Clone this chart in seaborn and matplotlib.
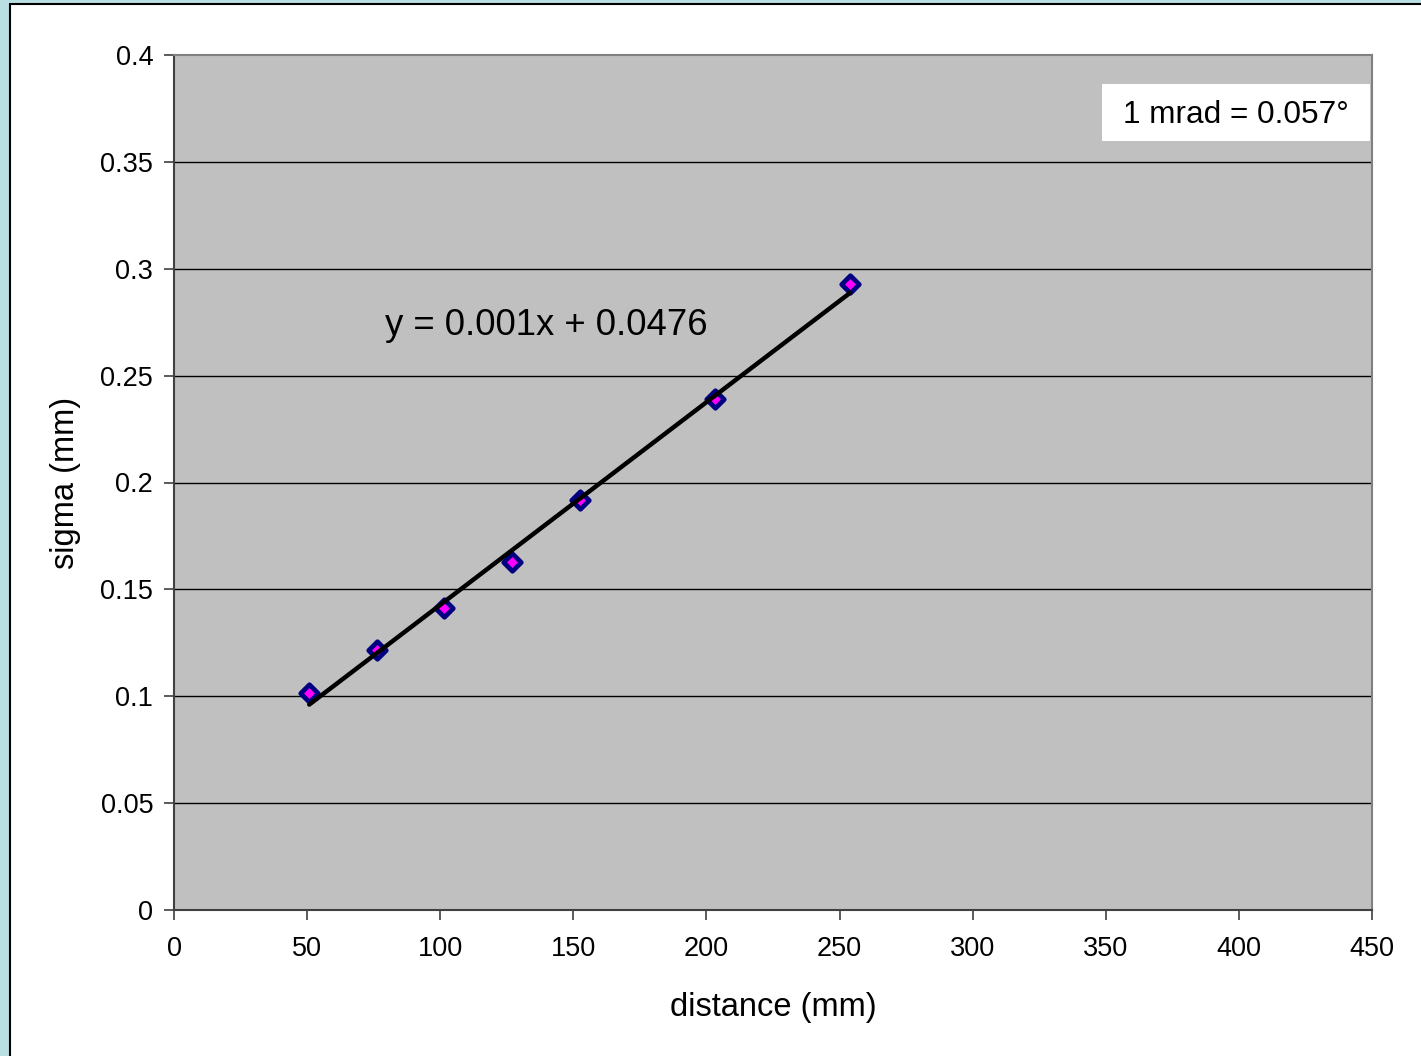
import numpy as np
import pandas as pd
import matplotlib
matplotlib.use("Agg")
import matplotlib.pyplot as plt
from matplotlib.patches import Rectangle
import seaborn as sns

# Data
distance_mm = [50.8, 76.2, 101.6, 127.0, 152.4, 203.2, 254.0]
sigma_mm = [0.1015, 0.1215, 0.1412, 0.1627, 0.1918, 0.2390, 0.2930]
x_ticks = [0, 50, 100, 150, 200, 250, 300, 350, 400, 450]
y_ticks = [0, 0.05, 0.1, 0.15, 0.2, 0.25, 0.3, 0.35, 0.4]
y_tick_labels = ["0", "0.05", "0.1", "0.15", "0.2", "0.25", "0.3", "0.35", "0.4"]
equation_text = "y = 0.001x + 0.0476"
note_text = "1 mrad = 0.057°"

sns.set_style("white")
plt.rcParams['font.family'] = ['Liberation Sans', 'DejaVu Sans']

df = pd.DataFrame({"distance": distance_mm, "sigma": sigma_mm})
slope, intercept = np.polyfit(df["distance"], df["sigma"], 1)
fit = pd.DataFrame({"distance": [min(distance_mm), max(distance_mm)]})
fit["sigma"] = slope * fit["distance"] + intercept

fig = plt.figure(figsize=(14.21, 10.56), dpi=100, facecolor="#BADFE3")
# white chart area with black border
fig.patches.append(Rectangle((10 / 1421, -0.05), 1.2, 1.05 - 4 / 1056,
                             transform=fig.transFigure, facecolor="white",
                             edgecolor="black", linewidth=1.5, zorder=-10))

ax = fig.add_axes([174 / 1421, 1 - 910 / 1056, 1198 / 1421, 855 / 1056], zorder=5)
ax.set_facecolor("#C0C0C0")

for yv in y_ticks[1:-1]:
    ax.axhline(yv, color="black", linewidth=1.0, zorder=1)

sns.scatterplot(data=df, x="distance", y="sigma", ax=ax, marker="D", s=80,
                color="#FF00FF", edgecolor="#000080", linewidth=3.4, zorder=3,
                legend=False)
sns.lineplot(data=fit, x="distance", y="sigma", ax=ax, color="black",
             linewidth=3.2, zorder=4)

ax.set_xlim(0, 450)
ax.set_ylim(0, 0.4)
ax.set_xticks(x_ticks)
ax.set_xticklabels([str(v) for v in x_ticks])
ax.set_yticks(y_ticks)
ax.set_yticklabels(y_tick_labels)
ax.tick_params(axis="both", which="both", direction="out", length=7, width=1.2,
               color="#404040", labelsize=19.5, labelcolor="black",
               bottom=True, left=True)
ax.tick_params(axis="x", pad=12)
ax.tick_params(axis="y", pad=8)

for side in ["top", "right"]:
    ax.spines[side].set_color("#808080")
    ax.spines[side].set_linewidth(1.5)
for side in ["left", "bottom"]:
    ax.spines[side].set_color("#404040")
    ax.spines[side].set_linewidth(1.5)

ax.set_xlabel("distance (mm)", fontsize=23.5, labelpad=21, color="black")
ax.set_ylabel("sigma (mm)", fontsize=23.5, labelpad=14, color="black")

ax.text(79.3, 0.2735, equation_text, fontsize=26.3, va="center", ha="left",
        color="black", zorder=5)

ax.add_patch(Rectangle((0.7746, 0.8994), 0.2237, 0.0667, transform=ax.transAxes,
                       facecolor="white", edgecolor="none", zorder=5))
ax.text(0.8865, 0.9300, note_text, transform=ax.transAxes, fontsize=22.7,
        ha="center", va="center", color="black", zorder=6)

fig.savefig("out.png", dpi=100, facecolor=fig.get_facecolor())
